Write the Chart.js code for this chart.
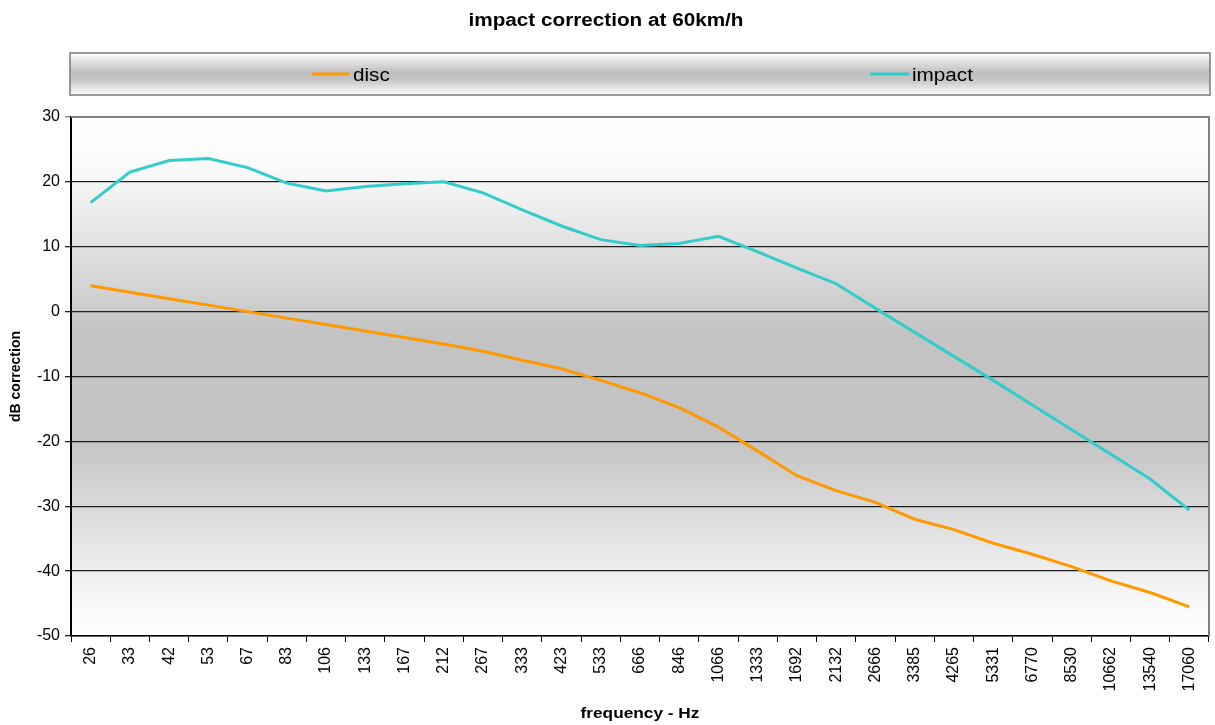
<!DOCTYPE html>
<html>
<head>
<meta charset="utf-8">
<title>impact correction at 60km/h</title>
<script src="https://cdn.jsdelivr.net/npm/chart.js@4/dist/chart.umd.min.js"></script>
<style>
  html, body { margin: 0; padding: 0; background: #ffffff; }
  #wrap { width: 1215px; height: 725px; }
</style>
</head>
<body>
<div id="wrap"><canvas id="chart" width="1215" height="725"></canvas></div>
<script>
// Third-octave band centre frequencies (Hz)
const frequencies = ['26', '33', '42', '53', '67', '83', '106', '133', '167', '212',
  '267', '333', '423', '533', '666', '846', '1066', '1333', '1692', '2132',
  '2666', '3385', '4265', '5331', '6770', '8530', '10662', '13540', '17060'];

// Correction in dB per band
const discValues = [4.0, 3.0, 2.0, 1.0, 0.0, -1.0, -2.0, -3.0, -4.0, -5.0,
  -6.1, -7.5, -8.8, -10.6, -12.5, -14.8, -17.8, -21.5, -25.3, -27.6,
  -29.4, -32.0, -33.6, -35.7, -37.4, -39.3, -41.5, -43.3, -45.5];

const impactValues = [16.8, 21.5, 23.3, 23.6, 22.2, 19.8, 18.6, 19.3, 19.7, 20.0,
  18.3, 15.7, 13.2, 11.1, 10.2, 10.5, 11.6, 9.2, 6.7, 4.3,
  0.5, -3.2, -6.9, -10.6, -14.4, -18.2, -22.0, -25.8, -30.6];

// Value axis range and step
const yMin = -50;
const yMax = 30;
const yStep = 10;

const chartTitle = 'impact correction at 60km/h';
const xTitle = 'frequency - Hz';
const yTitle = 'dB correction';
const seriesNames = ['disc', 'impact'];
const seriesColors = ['#FF9900', '#33CCCC'];

const FONT = '"Liberation Sans", Arial, Helvetica, sans-serif';
const STRETCH = 1.15;

function stretchedText(ctx, text, x, y, font, align) {
  ctx.save();
  ctx.font = font;
  ctx.fillStyle = '#000000';
  ctx.textBaseline = 'alphabetic';
  const w = ctx.measureText(text).width * STRETCH;
  let left = x;
  if (align === 'center') left = x - w / 2;
  ctx.translate(left, y);
  ctx.scale(STRETCH, 1);
  ctx.textAlign = 'left';
  ctx.fillText(text, 0, 0);
  ctx.restore();
}

// Plot-area shading, legend frame, titles and outer frame lines
const decorations = {
  id: 'decorations',
  beforeDraw(chart) {
    const { ctx, chartArea: a } = chart;
    ctx.save();
    const g = ctx.createLinearGradient(0, a.top, 0, a.bottom);
    g.addColorStop(0.0, '#ffffff');
    g.addColorStop(0.10, '#fafafa');
    g.addColorStop(0.42, '#c3c3c3');
    g.addColorStop(0.62, '#c3c3c3');
    g.addColorStop(0.95, '#fbfbfb');
    g.addColorStop(1.0, '#fdfdfd');
    ctx.fillStyle = g;
    ctx.fillRect(a.left, a.top, a.right - a.left, a.bottom - a.top);
    ctx.restore();
  },
  afterDraw(chart) {
    const { ctx, chartArea: a } = chart;
    ctx.save();
    // top and right frame of the plot area
    ctx.strokeStyle = '#808080';
    ctx.lineWidth = 2;
    ctx.beginPath();
    ctx.moveTo(a.left, a.top);
    ctx.lineTo(a.right, a.top);
    ctx.lineTo(a.right, a.bottom);
    ctx.stroke();

    // legend box
    const lx = 70, ly = 53, lw = 1140, lh = 42;
    const lg = ctx.createLinearGradient(0, ly, 0, ly + lh);
    lg.addColorStop(0.0, '#ffffff');
    lg.addColorStop(0.45, '#c0c0c0');
    lg.addColorStop(0.62, '#c2c2c2');
    lg.addColorStop(1.0, '#ffffff');
    ctx.fillStyle = lg;
    ctx.fillRect(lx, ly, lw, lh);
    ctx.strokeStyle = '#7a7a7a';
    ctx.lineWidth = 1.5;
    ctx.strokeRect(lx, ly, lw, lh);

    const items = [
      { x0: 312, x1: 349, tx: 353 },
      { x0: 870, x1: 909, tx: 912 }
    ];
    items.forEach((it, i) => {
      ctx.strokeStyle = seriesColors[i];
      ctx.lineWidth = 3;
      ctx.beginPath();
      ctx.moveTo(it.x0, 74);
      ctx.lineTo(it.x1, 74);
      ctx.stroke();
      stretchedText(ctx, seriesNames[i], it.tx, 80.5, '18px ' + FONT, 'left');
    });

    // chart title and category axis title
    stretchedText(ctx, chartTitle, 606, 25.5, 'bold 18px ' + FONT, 'center');
    stretchedText(ctx, xTitle, (a.left + a.right) / 2, 718, 'bold 15px ' + FONT, 'center');
    ctx.restore();
  }
};

new Chart(document.getElementById('chart'), {
  type: 'line',
  data: {
    labels: frequencies,
    datasets: [
      {
        label: seriesNames[0],
        data: discValues,
        borderColor: seriesColors[0],
        backgroundColor: seriesColors[0],
        borderWidth: 3,
        pointRadius: 0,
        tension: 0,
        fill: false
      },
      {
        label: seriesNames[1],
        data: impactValues,
        borderColor: seriesColors[1],
        backgroundColor: seriesColors[1],
        borderWidth: 3,
        pointRadius: 0,
        tension: 0,
        fill: false
      }
    ]
  },
  options: {
    responsive: false,
    animation: false,
    devicePixelRatio: 1,
    layout: { padding: { left: 0, top: 117, right: 6, bottom: 0 } },
    plugins: {
      legend: { display: false },
      title: { display: false },
      tooltip: { enabled: false }
    },
    scales: {
      x: {
        type: 'category',
        offset: true,
        grid: {
          offset: true,
          drawOnChartArea: false,
          drawTicks: true,
          tickLength: 6,
          color: '#000000'
        },
        border: { color: '#000000', width: 1.5 },
        ticks: {
          autoSkip: false,
          minRotation: 90,
          maxRotation: 90,
          padding: 5,
          color: '#000000',
          font: { family: FONT, size: 16 }
        },
        afterFit(scale) { scale.height = 89; }
      },
      y: {
        min: yMin,
        max: yMax,
        ticks: {
          stepSize: yStep,
          padding: 5,
          color: '#000000',
          font: { family: FONT, size: 16 }
        },
        grid: {
          drawTicks: true,
          tickLength: 6,
          lineWidth: 1.3,
          color: (c) => (c.tick && c.tick.value === yMax) ? '#808080' : '#1e1e1e'
        },
        border: { color: '#000000', width: 2 },
        title: {
          display: true,
          text: yTitle,
          color: '#000000',
          font: { family: FONT, size: 14, weight: 'bold' },
          padding: { top: 8, bottom: 0 }
        },
        afterFit(scale) { scale.width = 71; }
      }
    }
  },
  plugins: [decorations]
});
</script>
</body>
</html>
